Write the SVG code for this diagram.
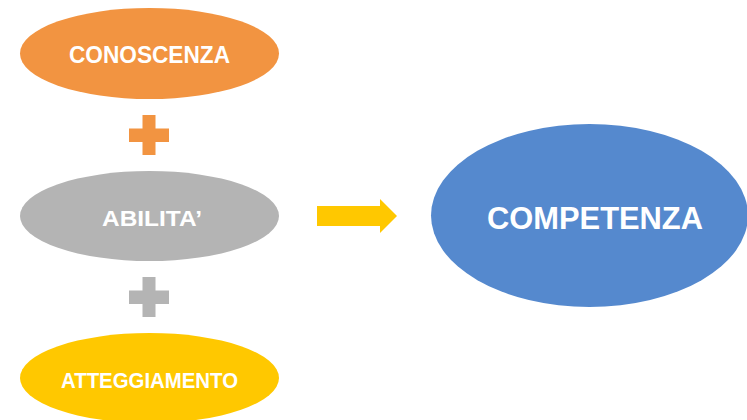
<svg xmlns="http://www.w3.org/2000/svg" width="747" height="420" viewBox="0 0 747 420">
<style>
.lbl{font-family:"Liberation Sans",Arial,sans-serif;font-weight:bold;fill:#fff;text-anchor:middle}
</style>
<rect width="747" height="420" fill="#fff"/>
<g id="conoscenza">
<ellipse cx="149.5" cy="53.5" rx="129.5" ry="45.5" fill="#F29441"/>
<text class="lbl" x="149.5" y="63" font-size="23" textLength="161" lengthAdjust="spacingAndGlyphs">CONOSCENZA</text>
</g>
<g id="plus1">
<path d="M142.5 115h13v13.5h13.5v13.5h-13.5v13h-13v-13h-13.5v-13.5h13.5z" fill="#F29441"/>
</g>
<g id="abilita">
<ellipse cx="149.5" cy="216" rx="129.5" ry="45" fill="#B4B4B4"/>
<text class="lbl" x="152" y="226" font-size="22.5" textLength="100" lengthAdjust="spacingAndGlyphs">ABILITA’</text>
</g>
<g id="plus2">
<path d="M142.5 277h13v13.5h13.5v13.5h-13.5v13h-13v-13h-13.5v-13.5h13.5z" fill="#B4B4B4"/>
</g>
<g id="atteggiamento">
<ellipse cx="149.5" cy="378" rx="129.5" ry="45" fill="#FFC800"/>
<text class="lbl" x="149.5" y="388" font-size="22" textLength="177" lengthAdjust="spacingAndGlyphs">ATTEGGIAMENTO</text>
</g>
<g id="competenza">
<ellipse cx="589.5" cy="215.5" rx="158.5" ry="91.5" fill="#5589CE"/>
<text class="lbl" x="595" y="229" font-size="32" textLength="216" lengthAdjust="spacingAndGlyphs">COMPETENZA</text>
</g>
<g id="connectors">
<path d="M317 206h63v-7l17 17-17 17v-7h-63z" fill="#FFC800"/>
</g>
</svg>
